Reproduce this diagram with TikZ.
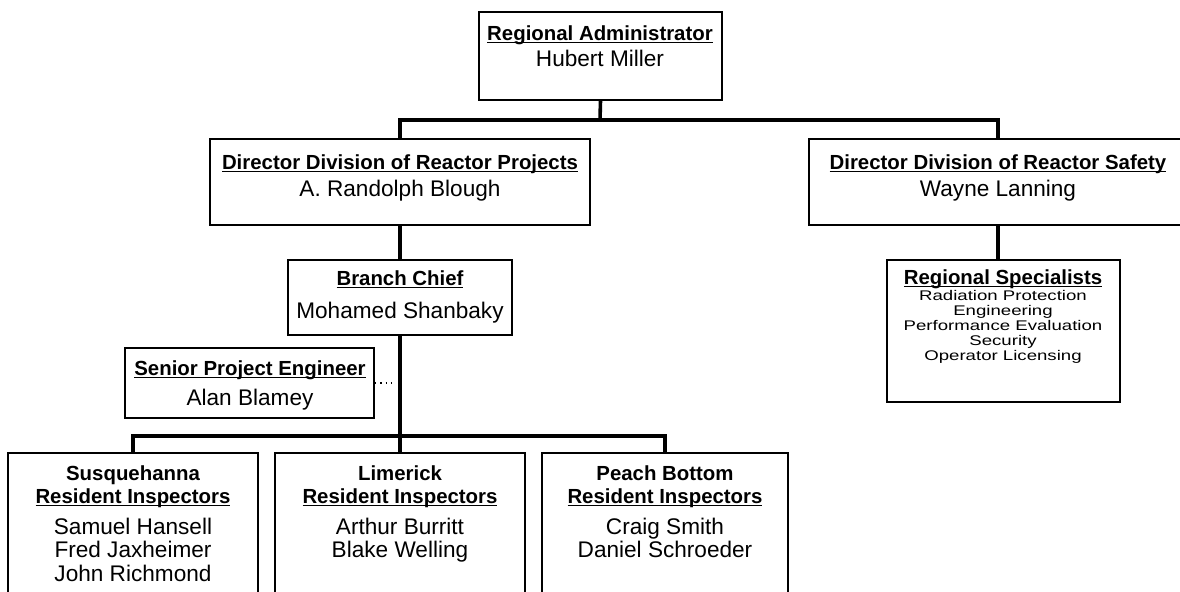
\documentclass[tikz,border=0pt]{standalone}
\usepackage{fontspec}
\setmainfont{Liberation Sans}
\newfontfamily\specfont[FakeStretch=1.33]{Liberation Sans}
\usetikzlibrary{fit}
\newcommand{\titleline}[1]{\setbox0\hbox{#1}\rlap{\rule[-1.6pt]{\wd0}{0.8pt}}\box0}

\begin{document}
\begin{tikzpicture}[x=0.5pt, y=-0.5pt,
	box/.style={draw, line width=0.7pt, inner sep=0pt},
	link/.style={line width=1.8pt},
	head/.style={anchor=base, inner sep=0pt, font=\fontsize{10.2}{12}\selectfont\bfseries},
	who/.style={anchor=base, inner sep=0pt, font=\fontsize{11.3}{13}\selectfont},
	area/.style={anchor=base, inner sep=0pt, font=\specfont\fontsize{7}{8}\selectfont}]
	\useasboundingbox (0, 0) rectangle (1180, 591);
	\clip (0, 0) rectangle (1180, 591);

	% boxes
	\node[box, fit={(479, 12) (722, 100)}] (admin) {};
	\node[box, fit={(210, 139) (590, 225)}] (dirproj) {};
	\node[box, fit={(809, 139) (1187, 225)}] (dirsafe) {};
	\node[box, fit={(288, 260) (512, 335)}] (branch) {};
	\node[box, fit={(125, 348) (374, 418)}] (senior) {};
	\node[box, fit={(887, 260) (1120, 402)}] (spec) {};
	\node[box, fit={(8, 453) (258, 600)}] (susq) {};
	\node[box, fit={(275, 453) (525, 600)}] (lim) {};
	\node[box, fit={(542, 453) (788, 600)}] (peach) {};

	% titles and names
	\node[head] (adminT) at (600, 40) {\titleline{Regional Administrator}};
	\node[who] (adminN) at (600, 66) {Hubert Miller};
	\node[head] (dirprojT) at (400, 169) {\titleline{Director Division of Reactor Projects}};
	\node[who] (dirprojN) at (400, 196) {A. Randolph Blough};
	\node[head] (dirsafeT) at (998, 169) {\titleline{Director Division of Reactor Safety}};
	\node[who] (dirsafeN) at (998, 196) {Wayne Lanning};
	\node[head] (branchT) at (400, 285) {\titleline{Branch Chief}};
	\node[who] (branchN) at (400, 318) {Mohamed Shanbaky};
	\node[head] (seniorT) at (250, 375) {\titleline{Senior Project Engineer}};
	\node[who] (seniorN) at (250, 405) {Alan Blamey};

	% specialists
	\node[head] (specT) at (1003, 284) {\titleline{Regional Specialists}};
	\node[area] (spec1) at (1003, 300) {Radiation Protection};
	\node[area] (spec2) at (1003, 315) {Engineering};
	\node[area] (spec3) at (1003, 330) {Performance Evaluation};
	\node[area] (spec4) at (1003, 345) {Security};
	\node[area] (spec5) at (1003, 360) {Operator Licensing};

	% resident inspectors
	\node[head] (susqT) at (133, 480) {Susquehanna};
	\node[head] (susqR) at (133, 503) {\titleline{Resident Inspectors}};
	\node[who] (susq1) at (133, 534) {Samuel Hansell};
	\node[who] (susq2) at (133, 557) {Fred Jaxheimer};
	\node[who] (susq3) at (133, 581) {John Richmond};
	\node[head] (limT) at (400, 480) {Limerick};
	\node[head] (limR) at (400, 503) {\titleline{Resident Inspectors}};
	\node[who] (lim1) at (400, 534) {Arthur Burritt};
	\node[who] (lim2) at (400, 557) {Blake Welling};
	\node[head] (peachT) at (665, 480) {Peach Bottom};
	\node[head] (peachR) at (665, 503) {\titleline{Resident Inspectors}};
	\node[who] (peach1) at (665, 534) {Craig Smith};
	\node[who] (peach2) at (665, 557) {Daniel Schroeder};

	% connectors
	\coordinate (bar1) at (600, 120);
	\coordinate (bar2) at (400, 436);
	\coordinate (dotend) at (392, 383);
	\draw[link] (admin.south) -- (bar1);
	\draw[link] (dirproj.north) |- (bar1) -| (dirsafe.north);
	\draw[link] (dirproj.south) -- (branch.north);
	\draw[link] (branch.south) -- (bar2) -- (lim.north);
	\draw[link] (susq.north) |- (bar2) -| (peach.north);
	\draw[link] (dirsafe.south) -- (dirsafe.south |- spec.north);
	\draw[dotted, line width=0.7pt] (senior.east) -- (dotend);
\end{tikzpicture}
\end{document}
